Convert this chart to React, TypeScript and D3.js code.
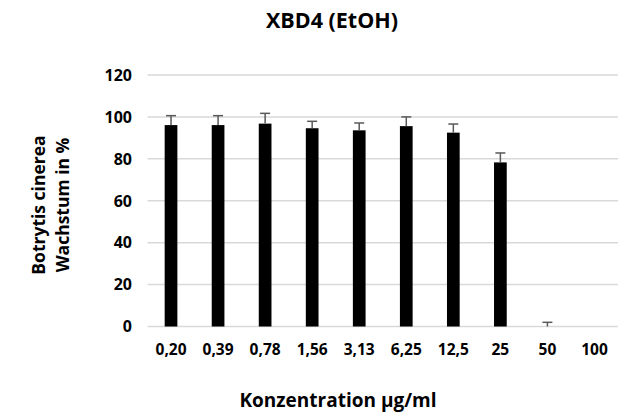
// Bar chart with plus-only error bars: Botrytis cinerea growth vs. concentration.
import React, { useEffect, useRef } from 'react';
import * as d3 from 'd3';

const categories = ['0,20', '0,39', '0,78', '1,56', '3,13', '6,25', '12,5', '25', '50', '100'];
const growth = [96.1, 96.1, 96.8, 94.6, 93.6, 95.6, 92.5, 78.3, 0, 0];
const errors = [4.5, 4.5, 4.9, 3.3, 3.5, 4.4, 4.1, 4.5, 2.0, 0];
const yTicks = [0, 20, 40, 60, 80, 100, 120];

const WIDTH = 630;
const HEIGHT = 412;
const LEFT = 147.5;
const RIGHT = 618;
const TOP = 75;
const BOTTOM = 326.5;
const FONT = '"Open Sans", Lato, sans-serif';

export default function App() {
  const svgRef = useRef<SVGSVGElement>(null);

  useEffect(() => {
    const svg = d3.select(svgRef.current).attr('width', WIDTH).attr('height', HEIGHT);
    svg.selectAll('*').remove();
    svg.append('rect').attr('width', WIDTH).attr('height', HEIGHT).attr('fill', 'white');

    const x = d3
      .scaleBand()
      .domain(categories)
      .range([LEFT, RIGHT])
      .paddingInner(0.73)
      .paddingOuter(0.365);

    const y = d3.scaleLinear().domain([0, 120]).range([BOTTOM, TOP]);

    // Gridlines
    svg
      .append('g')
      .selectAll('line')
      .data(yTicks)
      .enter()
      .append('line')
      .attr('x1', LEFT)
      .attr('x2', RIGHT)
      .attr('y1', (d) => y(d))
      .attr('y2', (d) => y(d))
      .attr('stroke', '#d9d9d9')
      .attr('stroke-width', 1.5);

    // Y tick labels
    svg
      .append('g')
      .selectAll('text')
      .data(yTicks)
      .enter()
      .append('text')
      .attr('x', 132)
      .attr('y', (d) => y(d))
      .attr('dy', '0.36em')
      .attr('text-anchor', 'end')
      .attr('font-family', FONT)
      .attr('font-weight', 700)
      .attr('font-size', '16px')
      .attr('fill', '#000')
      .text((d) => d);

    // Bars
    svg
      .append('g')
      .selectAll('rect')
      .data(growth)
      .enter()
      .append('rect')
      .attr('x', (_d, i) => x(categories[i])!)
      .attr('y', (d) => y(d))
      .attr('width', x.bandwidth())
      .attr('height', (d) => BOTTOM - y(d))
      .attr('fill', '#000');

    // Error bars (plus direction only)
    const eb = svg.append('g').attr('stroke', '#595959').attr('stroke-width', 1.5);
    growth.forEach((v, i) => {
      if (!errors[i]) return;
      const cx = x(categories[i])! + x.bandwidth() / 2;
      eb.append('line').attr('x1', cx).attr('x2', cx).attr('y1', y(v)).attr('y2', y(v + errors[i]));
      eb.append('line')
        .attr('x1', cx - 5)
        .attr('x2', cx + 5)
        .attr('y1', y(v + errors[i]))
        .attr('y2', y(v + errors[i]));
    });

    // X tick labels
    svg
      .append('g')
      .selectAll('text')
      .data(categories)
      .enter()
      .append('text')
      .attr('x', (d) => x(d)! + x.bandwidth() / 2)
      .attr('y', 355)
      .attr('text-anchor', 'middle')
      .attr('font-family', FONT)
      .attr('font-weight', 700)
      .attr('font-size', '15.5px')
      .attr('fill', '#000')
      .text((d) => d);

    // Title
    svg
      .append('text')
      .attr('x', 332)
      .attr('y', 28)
      .attr('text-anchor', 'middle')
      .attr('font-family', FONT)
      .attr('font-weight', 700)
      .attr('font-size', '21.5px')
      .attr('fill', '#000')
      .text('XBD4 (EtOH)');

    // X axis title
    svg
      .append('text')
      .attr('x', 338)
      .attr('y', 406.5)
      .attr('text-anchor', 'middle')
      .attr('font-family', FONT)
      .attr('font-weight', 700)
      .attr('font-size', '19px')
      .attr('fill', '#000')
      .text('Konzentration µg/ml');

    // Y axis title, two lines
    const yl = svg
      .append('text')
      .attr('transform', 'translate(45,205) rotate(-90)')
      .attr('text-anchor', 'middle')
      .attr('font-family', FONT)
      .attr('font-weight', 700)
      .attr('font-size', '17.5px')
      .attr('fill', '#000');
    yl.append('tspan').attr('x', 0).attr('y', 0).text('Botrytis cinerea');
    yl.append('tspan').attr('x', 0).attr('y', 24).text('Wachstum in %');
  }, []);

  return <svg ref={svgRef} style={{ position: 'absolute', left: 0, top: 0, display: 'block' }} />;
}
